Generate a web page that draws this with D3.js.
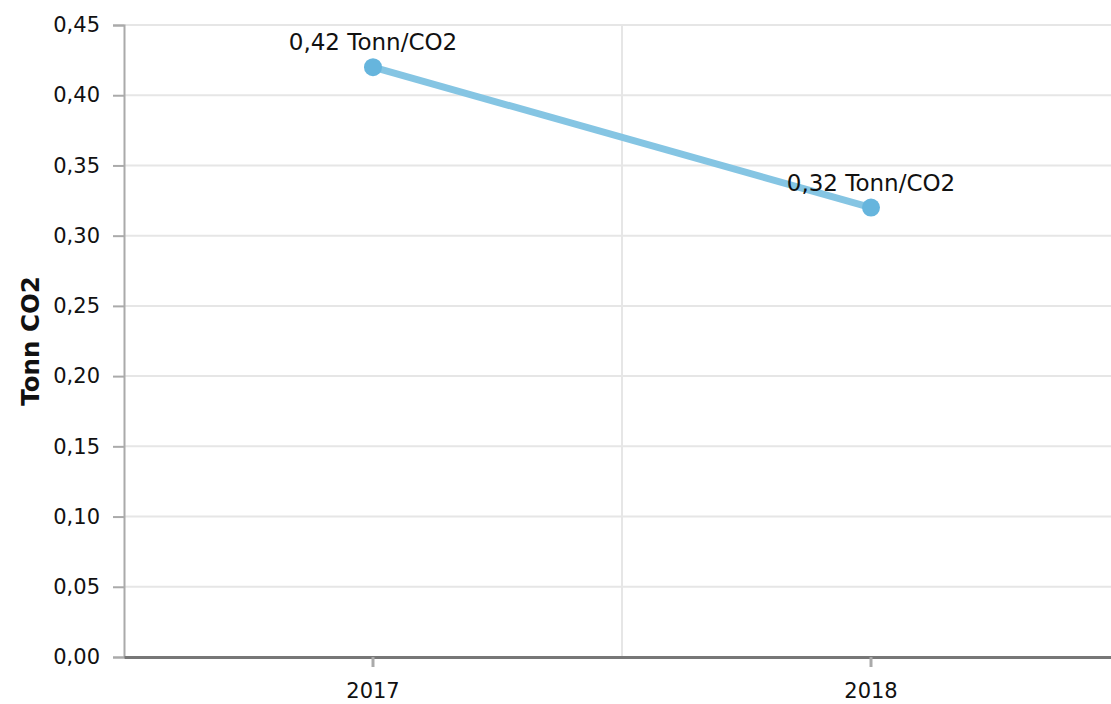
<!DOCTYPE html>
<html>
<head>
<meta charset="utf-8">
<script src="https://cdn.jsdelivr.net/npm/d3@7"></script>
<style>
  body { margin: 0; background: #fff; }
  svg text { font-family: "DejaVu Sans", Verdana, sans-serif; fill: #111; }
  .grid line { stroke: #e6e6e6; stroke-width: 2; }
  .axis path, .axis line { stroke: #aaa; }
</style>
</head>
<body>
<svg class="chart" width="1111" height="704"></svg>
<script>
const years = ["2017", "2018"]
const values = [0.42, 0.32]
const yTicks = [0, 0.05, 0.1, 0.15, 0.2, 0.25, 0.3, 0.35, 0.4, 0.45]
const unit = "Tonn/CO2"
const yTitle = "Tonn CO2"

const svg = d3.select("svg.chart")
const margin = { top: 25, left: 124, bottom: 47 }
const height = 704 - margin.top - margin.bottom
const fmt = v => d3.format(".2f")(v).replace(".", ",")

const x = d3.scaleBand().domain(years).range([margin.left, 1120]).padding(0)
const y = d3.scaleLinear().domain([0, 0.45]).range([margin.top + height, margin.top])

// horizontal grid
svg.append("g")
  .attr("class", "grid")
  .selectAll("line")
  .data(yTicks.slice(1))
  .enter()
  .append("line")
  .attr("x1", margin.left)
  .attr("x2", 1111)
  .attr("y1", d => y(d))
  .attr("y2", d => y(d))

// vertical grid at band edges
svg.append("g")
  .attr("class", "grid")
  .selectAll("line")
  .data(years.slice(1))
  .enter()
  .append("line")
  .attr("x1", d => x(d))
  .attr("x2", d => x(d))
  .attr("y1", margin.top)
  .attr("y2", y(0))

// y axis
const yAxis = svg.append("g")
  .attr("class", "axis")
  .attr("transform", `translate(${margin.left},0)`)
  .call(d3.axisLeft(y).tickValues(yTicks).tickFormat(fmt).tickSize(11).tickPadding(13))
yAxis.select(".domain").attr("stroke-width", 2)
yAxis.selectAll(".tick line").attr("stroke-width", 2)
yAxis.selectAll("text").style("font-size", "21px").attr("fill", "#111")

// x axis
const xAxis = svg.append("g")
  .attr("class", "axis")
  .attr("transform", `translate(0,${y(0)})`)
  .call(d3.axisBottom(x).tickSize(10).tickPadding(16).tickSizeOuter(0))
xAxis.select(".domain").style("stroke", "#777").attr("stroke-width", 3)
xAxis.selectAll(".tick line").attr("stroke-width", 3)
xAxis.selectAll("text").style("font-size", "21px").attr("fill", "#111")

// y title
svg.append("text")
  .attr("transform", `translate(39,${margin.top + height / 2}) rotate(-90)`)
  .attr("text-anchor", "middle")
  .style("font-size", "24.5px")
  .style("font-weight", "bold")
  .text(yTitle)

const cx = (d, i) => x(years[i]) + x.bandwidth() / 2

// line
svg.append("path")
  .datum(values)
  .attr("fill", "none")
  .attr("stroke", "#85c5e3")
  .attr("stroke-width", 7)
  .attr("d", d3.line().x(cx).y(d => y(d)))

// points
svg.append("g")
  .selectAll("circle")
  .data(values)
  .enter()
  .append("circle")
  .attr("cx", cx)
  .attr("cy", d => y(d))
  .attr("r", 9)
  .attr("fill", "#66b5dd")

// labels
svg.append("g")
  .selectAll("text")
  .data(values)
  .enter()
  .append("text")
  .attr("x", cx)
  .attr("y", d => y(d) - 17)
  .attr("text-anchor", "middle")
  .style("font-size", "23px")
  .text(d => `${fmt(d)} ${unit}`)
</script>
</body>
</html>
